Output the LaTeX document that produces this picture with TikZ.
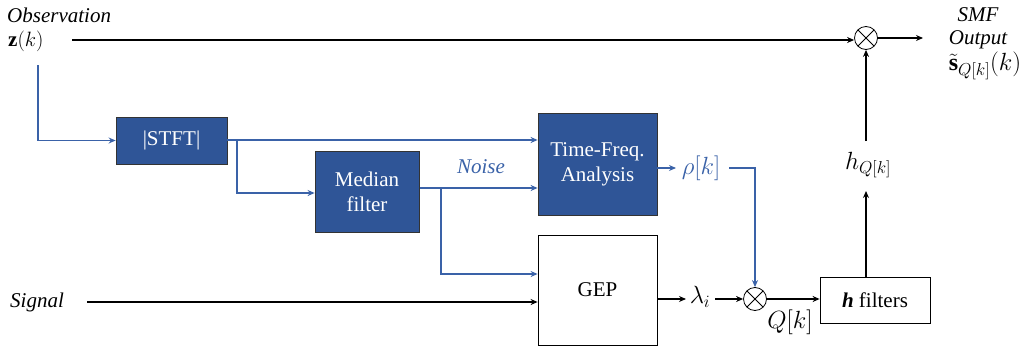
\documentclass[tikz,border=0pt]{standalone}
\usepackage{fontspec}
\setmainfont{Liberation Serif}
\usetikzlibrary{arrows.meta}
\definecolor{boxblue}{HTML}{2F5597}
\definecolor{lineblue}{HTML}{3A62A8}
\begin{document}
\begin{tikzpicture}[x=1pt,y=-1pt,
  lbl/.style={font=\fontsize{21}{24}\selectfont\itshape, inner sep=1pt},
  mlbl/.style={font=\fontsize{21}{24}\selectfont, inner sep=1pt},
  bmlbl/.style={font=\fontsize{25}{28}\selectfont, inner sep=1pt},
  bluebox/.style={draw=black!80, line width=0.8pt, fill=boxblue, text=white, font=\fontsize{21}{25}\selectfont, align=center, inner sep=0pt},
  whitebox/.style={draw=black, line width=0.8pt, fill=white, font=\fontsize{21}{25}\selectfont, align=center, inner sep=0pt},
  mult/.style={circle, draw=black, line width=0.8pt, minimum size=23pt, inner sep=0pt,
    path picture={\draw[line width=0.8pt] (path picture bounding box.north west) -- (path picture bounding box.south east)
      (path picture bounding box.north east) -- (path picture bounding box.south west);}},
  bl/.style={line width=1.6pt, black, -{Stealth[length=7pt,width=6pt]}},
  blu/.style={line width=1.3pt, lineblue, -{Stealth[length=7pt,width=6pt]}},
]
\useasboundingbox (0,0) rectangle (1023,348);

% boxes
\node[bluebox, minimum width=111pt, minimum height=47pt] (stft) at (171.5,140.5) {|STFT|};
\node[bluebox, minimum width=104pt, minimum height=81pt] (med) at (367,191.5) {Median\\filter};
\node[bluebox, minimum width=119pt, minimum height=102pt] (tf) at (597.5,164) {Time-Freq.\\Analysis};
\node[whitebox, minimum width=119pt, minimum height=110pt] (gep) at (597.5,290) {GEP};
\node[whitebox, minimum width=110pt, minimum height=46pt] (hf) at (875,300) {\textbf{\textit{h}} filters};

\node[mult] (m1) at (866,38) {};
\node[mult] (m2) at (755,299) {};

% labels
\node[lbl, anchor=west] (obs) at (6,15) {Observation};
\node[mlbl, anchor=west] (z) at (7,41) {$\mathbf{z}(k)$};
\node[lbl, anchor=west] (sig) at (9,302) {Signal};
\node[lbl, lineblue] (noise) at (481,167) {Noise};
\node[bmlbl, lineblue] (rho) at (701,168) {$\rho[k]$};
\node[bmlbl] (lam) at (700,297) {$\lambda_i$};
\node[bmlbl] (q) at (790,322) {$Q[k]$};
\node[bmlbl] (hq) at (868,165) {$h_{Q[k]}$};
\node[lbl] (smf) at (978,15) {SMF};
\node[lbl] (out) at (978,40) {Output};
\node[font=\fontsize{24}{28}\selectfont, inner sep=1pt] (st) at (985,66) {$\tilde{\mathbf{s}}_{Q[k]}(k)$};

% coordinates
\coordinate (obsS) at (72,40);
\coordinate (outE) at (923,38);
\coordinate (bS) at (38,65);
\coordinate (br1) at (237,140);
\coordinate (medin) at (237,193);
\coordinate (medout) at (419.5,188);
\coordinate (br2) at (441,188);
\coordinate (gepin1) at (441,274);
\coordinate (sigS) at (87,302);
\coordinate (gepout) at (657,299);
\coordinate (lamin) at (686,299);
\coordinate (lamout) at (715,299);
\coordinate (rhoin) at (676,168);
\coordinate (rhoout) at (729,168);
\coordinate (hqin) at (866,191);
\coordinate (hqout) at (866,141);

% black connectors
\draw[bl] (obsS) -- (m1.west |- obsS);
\draw[bl] (m1) -- (outE);
\draw[bl] (sigS) -- (gep.west |- sigS);
\draw[bl] (gepout) -- (lamin);
\draw[bl] (lamout) -- (m2);
\draw[bl] (m2) -- (hf.west |- m2);
\draw[bl] (hf.north -| hqin) -- (hqin);
\draw[bl] (hqout) -- (m1);

% blue connectors
\draw[blu] (bS) |- (stft.west);
\draw[blu] (stft.east |- br1) -- (tf.west |- br1);
\draw[blu] (br1) -- (medin) -- (med.west |- medin);
\draw[blu] (medout) -- (tf.west |- medout);
\draw[blu] (br2) -- (gepin1) -- (gep.west |- gepin1);
\draw[blu] (tf.east |- rhoin) -- (rhoin);
\draw[blu] (rhoout) -| (m2);
\end{tikzpicture}
\end{document}
